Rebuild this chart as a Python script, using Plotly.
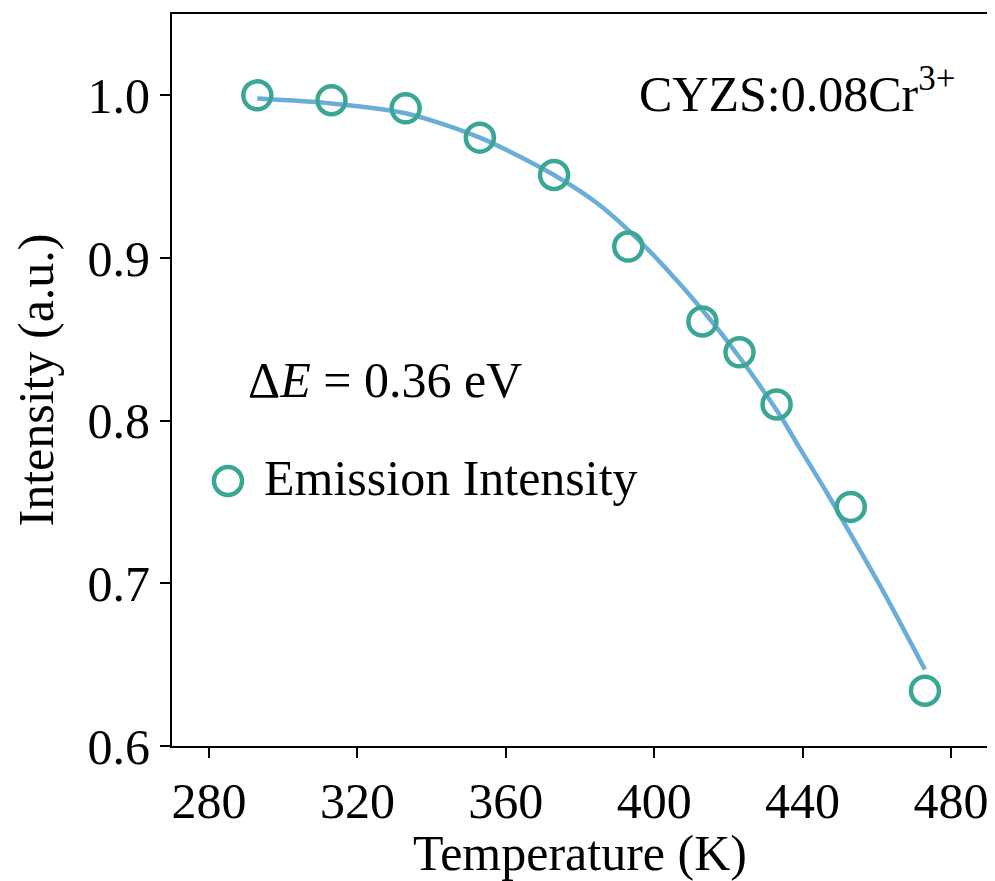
import plotly.graph_objects as go

# Measured emission intensity
temperature_k = [293, 313, 333, 353, 373, 393, 413, 423, 433, 453, 473]
intensity = [1.000, 0.997, 0.992, 0.974, 0.951, 0.907, 0.861, 0.842, 0.810, 0.747, 0.634]

# Fitted curve
fit_t = [293, 313, 333, 353, 373, 385, 394, 403, 413, 423, 434, 439, 447, 450, 462, 473]
fit_i = [0.998, 0.995, 0.989, 0.974, 0.951, 0.933, 0.915, 0.894, 0.868, 0.839, 0.803, 0.784, 0.754, 0.742, 0.694, 0.647]

x_ticks = [280, 320, 360, 400, 440, 480]
y_ticks = [0.6, 0.7, 0.8, 0.9, 1.0]

legend_label = "Emission Intensity"
delta_e_label = "Δ<i>E</i> = 0.36 eV"
sample_label = "CYZS:0.08Cr<sup>3+</sup>"

FONT = "Liberation Serif, Times New Roman, serif"
TEAL = "#3aa794"
BLUE = "#6aadd8"
FS = 50

fig = go.Figure()
fig.add_trace(go.Scatter(
    x=fit_t, y=fit_i, mode="lines", line=dict(color=BLUE, width=4.5, shape="spline", smoothing=0.8),
    showlegend=False, hoverinfo="skip"))
fig.add_trace(go.Scatter(
    x=temperature_k, y=intensity, mode="markers", name=legend_label, showlegend=False,
    marker=dict(symbol="circle-open", size=28, color=TEAL, line=dict(color=TEAL, width=4.5))))

# legend drawn manually (plotly caps legend marker size)
lx, ly, rx, ry = 0.0686, 0.362, 0.01716, 0.01913
fig.add_shape(type="circle", xref="paper", yref="paper",
              x0=lx - rx, x1=lx + rx, y0=ly - ry, y1=ly + ry,
              line=dict(color=TEAL, width=4.5), fillcolor="rgba(0,0,0,0)")

fig.update_layout(
    width=987, height=873,
    margin=dict(l=164, r=7, t=6, b=135, autoexpand=False),
    plot_bgcolor="white", paper_bgcolor="white",
    font=dict(family=FONT, size=FS, color="black"),
    showlegend=False,
    annotations=[
        dict(x=0.091, y=0.5, xref="paper", yref="paper", xanchor="left", yanchor="middle",
             text=delta_e_label, showarrow=False, font=dict(size=FS)),
        dict(x=0.962, y=0.895, xref="paper", yref="paper", xanchor="right", yanchor="middle",
             text=sample_label, showarrow=False, font=dict(size=FS)),
        dict(x=0.110, y=0.366, xref="paper", yref="paper", xanchor="left", yanchor="middle",
             text=legend_label, showarrow=False, font=dict(size=FS)),
    ],
)
fig.update_xaxes(
    range=[270, 490], tickvals=x_ticks, ticktext=[str(v) for v in x_ticks],
    showgrid=False, zeroline=False, showline=True, linecolor="black", linewidth=2, mirror=True,
    ticks="outside", ticklen=10, tickwidth=2, tickcolor="black", automargin=False,
    title=dict(text="Temperature (K)", font=dict(size=FS), standoff=0))
fig.update_yaxes(
    range=[0.6, 1.05], tickvals=y_ticks, ticktext=[f"{v:.1f}" for v in y_ticks],
    showgrid=False, zeroline=False, showline=True, linecolor="black", linewidth=2, mirror=True,
    ticks="outside", ticklen=10, tickwidth=2, tickcolor="black", automargin=False,
    title=dict(text="Intensity (a.u.)", font=dict(size=FS), standoff=20))

fig.write_html("out.html")
